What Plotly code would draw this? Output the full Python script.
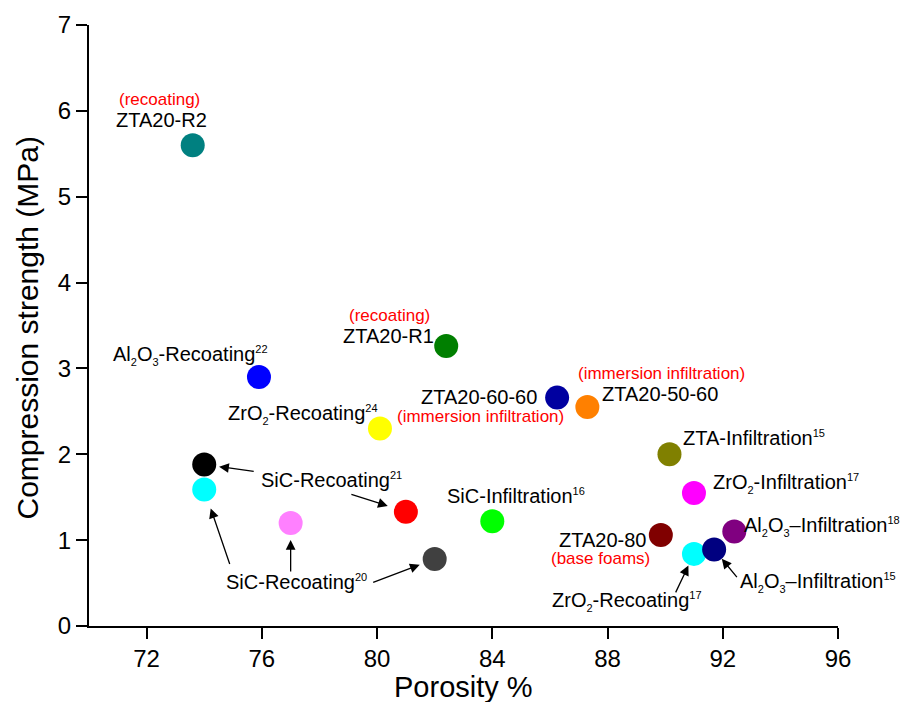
import plotly.graph_objects as go

# Foam samples: porosity (%) vs. compression strength (MPa)
samples = [
    "ZTA20-R2", "ZTA20-R1", "Al2O3-Recoating22", "ZrO2-Recoating24",
    "SiC-Recoating21-a", "SiC-Recoating20-a", "SiC-Recoating20-b",
    "SiC-Recoating21-b", "SiC-Recoating20-c", "SiC-Infiltration16",
    "ZTA20-60-60", "ZTA20-50-60", "ZTA-Infiltration15", "ZrO2-Infiltration17",
    "Al2O3-Infiltration18", "ZTA20-80", "ZrO2-Recoating17", "Al2O3-Infiltration15",
]
porosity = [73.6, 82.4, 75.9, 80.1, 74.0, 74.0, 77.0, 81.0, 82.0, 84.0,
            86.25, 87.3, 90.15, 91.0, 92.4, 89.85, 91.0, 91.7]
strength = [5.60, 3.26, 2.90, 2.30, 1.88, 1.59, 1.20, 1.33, 0.78, 1.22,
            2.66, 2.55, 2.00, 1.55, 1.10, 1.06, 0.84, 0.89]
colors = ["#008080", "#007F00", "#0000FF", "#FFFF00", "#000000", "#00FFFF",
          "#FF80FF", "#FF0000", "#404040", "#00FF00", "#0000A0", "#FF8000",
          "#808000", "#FF00FF", "#800080", "#800000", "#00FFFF", "#000080"]

x_ticks = [72, 76, 80, 84, 88, 92, 96]
y_ticks = [0, 1, 2, 3, 4, 5, 6, 7]

FONT = "Liberation Sans, Arial, sans-serif"
RED = "#FF0000"


def sub(t):
    return f'<sub><span style="font-size:11px">{t}</span></sub>'


def sup(t):
    return f'<sup><span style="font-size:11px">{t}</span></sup>'


AL2O3 = "Al" + sub(2) + "O" + sub(3)
ZRO2 = "ZrO" + sub(2)

# Text labels placed relative to a sample: (sample, text, xanchor, dx px, dy px up, color, size)
labels = [
    ("ZTA20-R2", "(recoating)", "center", -33, 46, RED, 17),
    ("ZTA20-R2", "ZTA20-R2", "center", -31, 25, "black", 20),
    ("ZTA20-R1", "(recoating)", "center", -57, 31, RED, 17),
    ("ZTA20-R1", "ZTA20-R1", "right", -10, 10, "black", 20),
    ("Al2O3-Recoating22", AL2O3 + "-Recoating" + sup(22), "right", 11, 22, "black", 20),
    ("ZrO2-Recoating24", ZRO2 + "-Recoating" + sup(24), "right", 0, 14, "black", 20),
    ("SiC-Recoating21-a", "SiC-Recoating" + sup(21), "left", 55, -15, "black", 20),
    ("SiC-Recoating20-a", "SiC-Recoating" + sup(20), "left", 20, -93, "black", 20),
    ("SiC-Infiltration16", "SiC-Infiltration" + sup(16), "center", 24, 25, "black", 20),
    ("ZTA20-60-60", "ZTA20-60-60", "right", -18, 1, "black", 20),
    ("ZTA20-60-60", "(immersion infiltration)", "right", 9, -19, RED, 17),
    ("ZTA20-50-60", "ZTA20-50-60", "left", 13, 13, "black", 20),
    ("ZTA20-50-60", "(immersion infiltration)", "left", -11, 34, RED, 17),
    ("ZTA-Infiltration15", "ZTA-Infiltration" + sup(15), "left", 12, 16, "black", 20),
    ("ZrO2-Infiltration17", ZRO2 + "-Infiltration" + sup(17), "left", 17, 9, "black", 20),
    ("Al2O3-Infiltration18", AL2O3 + "\u2013Infiltration" + sup(18), "left", 8, 5, "black", 20),
    ("ZTA20-80", "ZTA20-80", "right", -13, -5, "black", 20),
    ("ZTA20-80", "(base foams)", "right", -9, -24, RED, 17),
    ("ZrO2-Recoating17", ZRO2 + "-Recoating" + sup(17), "right", 10, -48, "black", 20),
    ("Al2O3-Infiltration15", AL2O3 + "\u2013Infiltration" + sup(15), "left", 24, -33, "black", 20),
]

# Pointer arrows: (target sample, tail dx px, tail dy px down, standoff px)
arrows = [
    ("SiC-Recoating21-a", 51, 7, 15),
    ("SiC-Recoating21-b", -56, -18, 19),
    ("SiC-Recoating20-a", 26, 76, 20),
    ("SiC-Recoating20-b", 0, 50, 17),
    ("SiC-Recoating20-c", -63, 24, 16),
    ("ZrO2-Recoating17", -19, 40, 13),
    ("Al2O3-Infiltration15", 24, 29, 12),
]

idx = {name: i for i, name in enumerate(samples)}

fig = go.Figure(go.Scatter(
    x=porosity, y=strength, mode="markers",
    marker=dict(size=24, color=colors, line=dict(width=0)),
    hovertext=samples, showlegend=False, cliponaxis=False,
))

annotations = []
for name, text, xa, dx, dy, col, size in labels:
    i = idx[name]
    annotations.append(dict(
        x=porosity[i], y=strength[i], xref="x", yref="y", text=text,
        showarrow=False, xanchor=xa, yanchor="middle", xshift=dx, yshift=dy,
        font=dict(family=FONT, size=size, color=col),
    ))
for name, ax, ay, so in arrows:
    i = idx[name]
    annotations.append(dict(
        x=porosity[i], y=strength[i], xref="x", yref="y", text="",
        showarrow=True, ax=ax, ay=ay, axref="pixel", ayref="pixel",
        arrowhead=2, arrowsize=1.5, arrowwidth=1.3, arrowcolor="black",
        standoff=so,
    ))

# Axis titles
annotations.append(dict(
    x=0, y=0.5, xref="paper", yref="paper", xshift=-62, yshift=-3,
    text="Compression strength (MPa)", textangle=-90, showarrow=False,
    xanchor="center", yanchor="middle",
    font=dict(family=FONT, size=30, color="black"),
))
annotations.append(dict(
    x=0.5, y=0, xref="paper", yref="paper", yshift=-61,
    text="Porosity %", showarrow=False, xanchor="center", yanchor="middle",
    font=dict(family=FONT, size=29, color="black"),
))

axis_common = dict(
    showline=True, linewidth=2, linecolor="black", ticks="outside",
    ticklen=11, tickwidth=2, tickcolor="black", showgrid=False,
    zeroline=False, mirror=False,
    tickfont=dict(family=FONT, size=24, color="black"),
)

fig.update_layout(
    width=902, height=702,
    margin=dict(l=89, r=64, t=25, b=76),
    paper_bgcolor="white", plot_bgcolor="white",
    xaxis=dict(range=[70, 96], tickvals=x_ticks, ticklabelstandoff=-1, **axis_common),
    yaxis=dict(range=[0, 7], tickvals=y_ticks, ticklabelstandoff=0, **axis_common),
    annotations=annotations,
    font=dict(family=FONT),
)

fig.write_html("out.html")
